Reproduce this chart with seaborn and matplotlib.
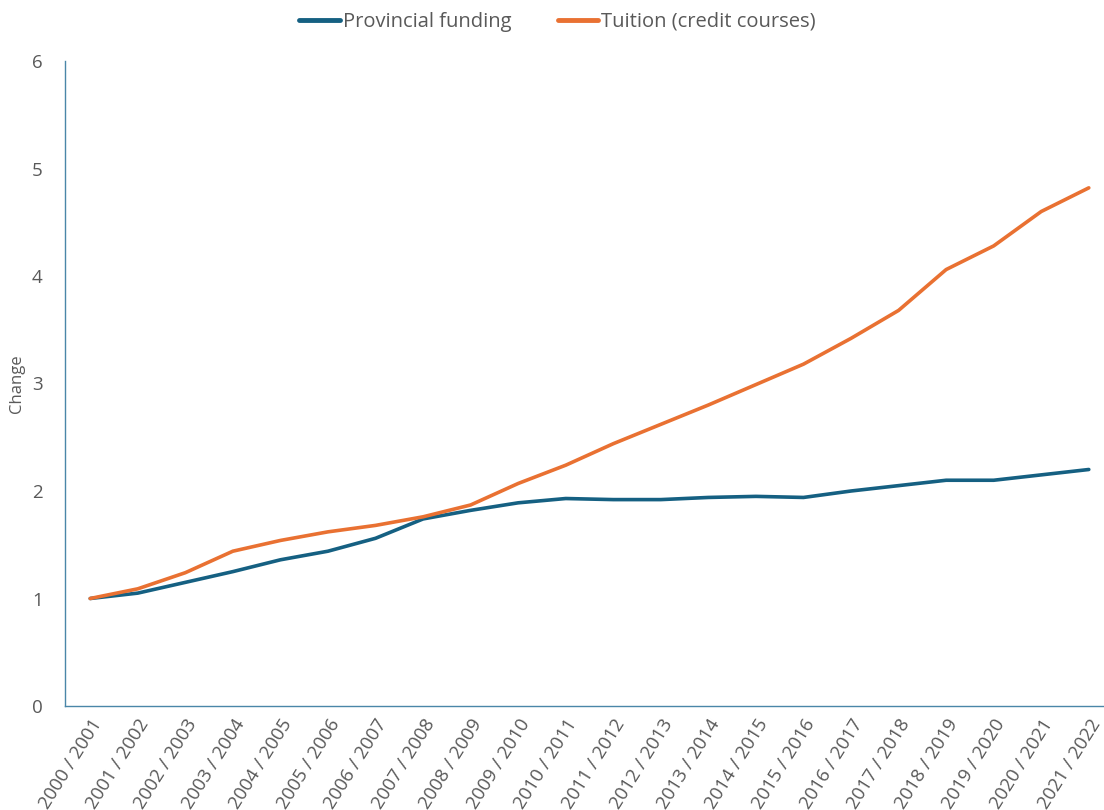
import matplotlib
matplotlib.use("Agg")
import matplotlib.pyplot as plt
import seaborn as sns
import pandas as pd

years = ["2000 / 2001", "2001 / 2002", "2002 / 2003", "2003 / 2004", "2004 / 2005",
         "2005 / 2006", "2006 / 2007", "2007 / 2008", "2008 / 2009", "2009 / 2010",
         "2010 / 2011", "2011 / 2012", "2012 / 2013", "2013 / 2014", "2014 / 2015",
         "2015 / 2016", "2016 / 2017", "2017 / 2018", "2018 / 2019", "2019 / 2020",
         "2020 / 2021", "2021 / 2022"]
provincial_funding = [1.00, 1.05, 1.15, 1.25, 1.36, 1.44, 1.56, 1.74, 1.82, 1.89,
                      1.93, 1.92, 1.92, 1.94, 1.95, 1.94, 2.00, 2.05, 2.10, 2.10,
                      2.15, 2.20]
tuition = [1.00, 1.09, 1.24, 1.44, 1.54, 1.62, 1.68, 1.76, 1.87, 2.07,
           2.24, 2.44, 2.62, 2.80, 2.99, 3.18, 3.42, 3.68, 4.06, 4.28,
           4.60, 4.82]
series_names = ["Provincial funding", "Tuition (credit courses)"]
colors = ["#156082", "#E97132"]

df = pd.DataFrame({
    "pos": list(range(len(years))) * 2,
    "value": provincial_funding + tuition,
    "series": [series_names[0]] * len(years) + [series_names[1]] * len(years),
})

sns.set_theme(style="white")
plt.rcParams["font.family"] = ["Open Sans", "DejaVu Sans"]

fig = plt.figure(figsize=(11.04, 8.10), dpi=100)
ax = fig.add_axes([65 / 1104, 104 / 810, 1049 / 1104, 645 / 810])

sns.lineplot(data=df, x="pos", y="value", hue="series",
             palette=dict(zip(series_names, colors)), linewidth=2.6,
             ax=ax, legend=False)

ax.set_xlim(-0.53, len(years) - 0.47)
ax.set_ylim(0, 6)
ax.set_yticks(range(0, 7))
ax.set_xticks(range(len(years)))
ax.set_xticklabels(years, rotation=58, ha="right", rotation_mode="anchor")

text_color = "#595959"
ax.tick_params(axis="both", length=0, labelsize=13.5, colors=text_color)
ax.tick_params(axis="x", pad=7)
ax.tick_params(axis="y", pad=16)
ax.set_xlabel("")
ax.set_ylabel("Change", fontsize=12, color=text_color)
ax.yaxis.set_label_coords(-40 / 1049, 0.50)

for side in ["top", "right"]:
    ax.spines[side].set_visible(False)
for side in ["left", "bottom"]:
    ax.spines[side].set_color("#4A86A8")
    ax.spines[side].set_linewidth(1.0)

handles = [plt.Line2D([], [], color=c, linewidth=3.5) for c in colors]
leg = fig.legend(handles, series_names, loc="center",
                 bbox_to_anchor=(0.505, 1 - 22 / 810), ncol=2, frameon=False,
                 fontsize=14.5, labelcolor=text_color, handlelength=2.0,
                 handletextpad=0.15, columnspacing=2.3)

fig.savefig("out.png", dpi=100)
